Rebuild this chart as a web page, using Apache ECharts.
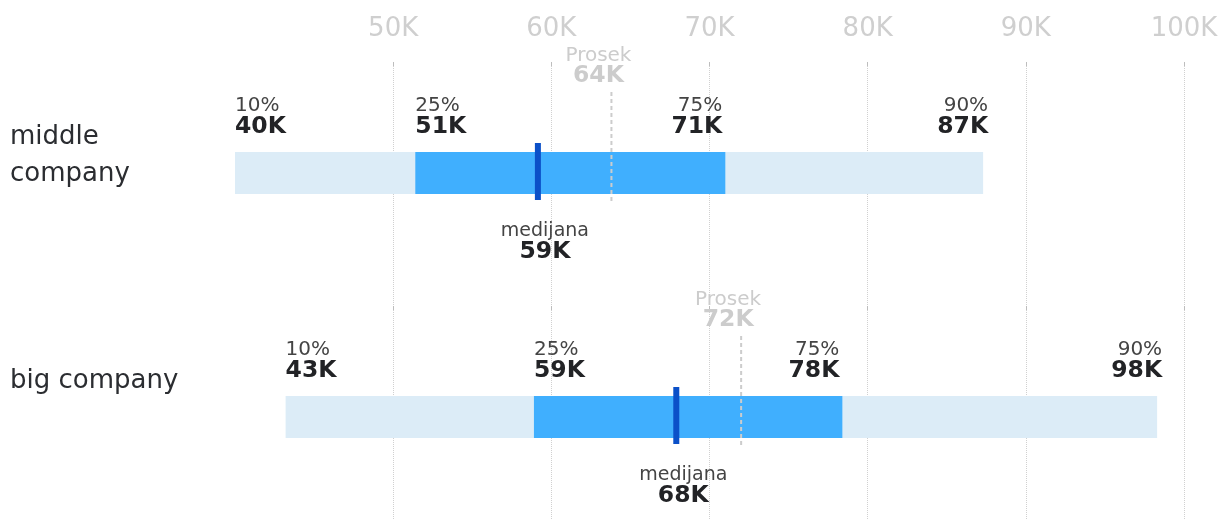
<!DOCTYPE html>
<html><head><meta charset="utf-8">
<script src="https://cdn.jsdelivr.net/npm/echarts@6/dist/echarts.min.js"></script>
<style>html,body{margin:0;padding:0;background:#fff}#c{width:1228px;height:520px}</style>
</head><body><div id="c"></div>
<script>
const categories = ['middle company', 'big company'];
const p10 = [40000, 43200];
const p25 = [51400, 58900];
const median = [59150, 67900];
const p75 = [71000, 78400];
const p90 = [87300, 98300];
const average = [63800, 72000];
const pctLabels = ['10%', '25%', '75%', '90%'];
const medianLabel = 'medijana';
const averageLabel = 'Prosek';
const axisMin = 40000, axisMax = 100000, axisStep = 10000;
const tickValues = [50000, 60000, 70000, 80000, 90000, 100000];

const fmtK = v => Math.round(v / 1000) + 'K';
const FONT = 'DejaVu Sans';

const data = categories.map((c, i) => [i, p10[i], p25[i], median[i], p75[i], p90[i], average[i]]);

function txt(x, y, text, align, size, weight, color) {
  return {type: 'text', x: x, y: y, style: {text: text, align: align, verticalAlign: 'middle',
    fontSize: size, fontWeight: weight, fontFamily: FONT, fill: color}};
}

function renderItem(params, api) {
  const ci = api.value(0);
  const vals = [1, 2, 3, 4, 5, 6].map(k => api.value(k));
  const px = val => api.coord([val, ci])[0];
  const yc = api.coord([vals[0], ci])[1] - 11;
  const h = 42;
  const x10 = px(vals[0]), x25 = px(vals[1]), xm = px(vals[2]), x75 = px(vals[3]), x90 = px(vals[4]), xa = px(vals[5]);
  const pc = 20, ms = 19, vs = 23.5;
  const pColor = '#444444', vColor = '#222326', gColor = '#cccccc';
  return {type: 'group', children: [
    {type: 'rect', shape: {x: x10, y: yc - h / 2, width: x90 - x10, height: h}, style: {fill: '#dcecf7'}},
    {type: 'rect', shape: {x: x25, y: yc - h / 2, width: x75 - x25, height: h}, style: {fill: '#40affe'}},
    {type: 'line', shape: {x1: xa, y1: yc - 81, x2: xa, y2: yc + 29}, style: {stroke: gColor, lineWidth: 2, lineDash: [4, 3]}},
    {type: 'rect', shape: {x: xm - 3, y: yc - 30, width: 6, height: 57}, style: {fill: '#0b50c8'}},
    txt(x10, yc - 67, pctLabels[0], 'left', pc, 'normal', pColor),
    txt(x10, yc - 46, fmtK(vals[0]), 'left', vs, 'bold', vColor),
    txt(x25, yc - 67, pctLabels[1], 'left', pc, 'normal', pColor),
    txt(x25, yc - 46, fmtK(vals[1]), 'left', vs, 'bold', vColor),
    txt(x75 - 3, yc - 67, pctLabels[2], 'right', pc, 'normal', pColor),
    txt(x75 - 3, yc - 46, fmtK(vals[3]), 'right', vs, 'bold', vColor),
    txt(x90 + 5, yc - 67, pctLabels[3], 'right', pc, 'normal', pColor),
    txt(x90 + 5, yc - 46, fmtK(vals[4]), 'right', vs, 'bold', vColor),
    txt(xm + 7, yc + 58, medianLabel, 'center', ms, 'normal', pColor),
    txt(xm + 7, yc + 79, fmtK(vals[2]), 'center', vs, 'bold', vColor),
    txt(xa - 13, yc - 117, averageLabel, 'center', pc, 'normal', gColor),
    txt(xa - 13, yc - 97, fmtK(vals[5]), 'center', vs, 'bold', gColor)
  ]};
}

const tickStyle = {show: true, inside: true, length: 4, customValues: tickValues, lineStyle: {color: '#bdbdbd', width: 1}};

const chart = echarts.init(document.getElementById('c'), null, {renderer: 'canvas'});
chart.setOption({
  animation: false,
  backgroundColor: '#ffffff',
  textStyle: {fontFamily: FONT},
  grid: [
    {left: 235, right: 44, top: 62, height: 488, outerBoundsMode: 'none', containLabel: false},
    {left: 235, right: 44, top: -3.5, height: 488, outerBoundsMode: 'none', containLabel: false}
  ],
  xAxis: [
    {type: 'value', gridIndex: 0, position: 'top', min: axisMin, max: axisMax, interval: axisStep,
     axisLine: {show: false}, axisTick: {show: false},
     axisLabel: {fontSize: 26, color: '#cfcfcf', margin: 20, showMinLabel: false, formatter: fmtK, fontFamily: FONT},
     splitLine: {show: true, showMinLine: false, lineStyle: {type: 'dotted', color: '#d0d0d0', width: 1}}},
    {type: 'value', gridIndex: 1, min: axisMin, max: axisMax, show: false},
    {type: 'value', gridIndex: 0, position: 'top', offset: 0, min: axisMin, max: axisMax, interval: axisStep,
     axisLine: {show: false}, axisTick: tickStyle, axisLabel: {show: false}, splitLine: {show: false}},
    {type: 'value', gridIndex: 0, position: 'top', offset: -244, min: axisMin, max: axisMax, interval: axisStep,
     axisLine: {show: false}, axisTick: tickStyle, axisLabel: {show: false}, splitLine: {show: false}}
  ],
  yAxis: [
    {type: 'category', gridIndex: 0, data: categories, inverse: true, show: false},
    {type: 'category', gridIndex: 1, data: categories, inverse: true,
     axisLine: {show: false}, axisTick: {show: false}, splitLine: {show: false},
     axisLabel: {align: 'left', verticalAlign: 'top', margin: 225, fontSize: 26, lineHeight: 37,
       color: '#2b2d31', width: 200, overflow: 'break', fontFamily: FONT}}
  ],
  series: [{
    type: 'custom', xAxisIndex: 0, yAxisIndex: 0,
    renderItem: renderItem,
    encode: {x: [1, 2, 3, 4, 5, 6], y: 0},
    data: data
  }]
});
</script></body></html>
